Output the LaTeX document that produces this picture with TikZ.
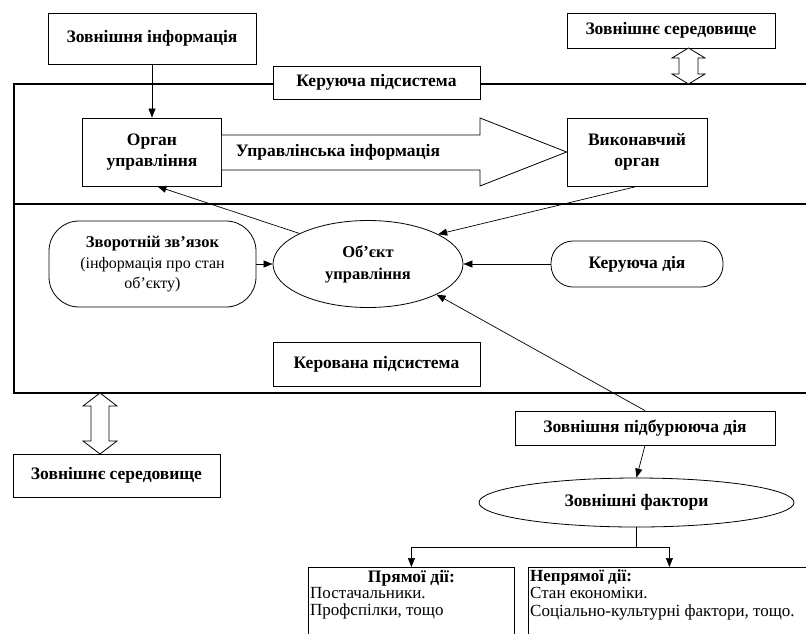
\documentclass[tikz,border=0pt]{standalone}
\usepackage{fontspec}
\setmainfont{Liberation Serif}
\usetikzlibrary{shapes.geometric,arrows.meta,calc}
\begin{document}
\begin{tikzpicture}[x=1pt,y=-1pt,
  bx/.style={draw, line width=0.8pt, fill=white, inner sep=2pt, align=center,
    font=\bfseries\fontsize{17.5}{21}\selectfont},
  lbl/.style={inner sep=1pt, align=center, font=\bfseries\fontsize{17.5}{21}\selectfont},
  txt/.style={inner sep=2pt, align=left, font=\fontsize{17}{17.5}\selectfont},
  arr/.style={-{Triangle[length=9pt,width=7pt]}, line width=0.7pt},
  frm/.style={line width=1.1pt},
  hollow/.style={draw, line width=0.8pt, fill=white}]
\useasboundingbox (0,0) rectangle (806,633);

% frame of the system
\draw[frm] (14,84) rectangle (812,393);
\coordinate (divL) at (14,204);
\coordinate (divR) at (812,204);
\draw[frm] (divL) -- (divR);

% nodes
\node[bx, minimum width=208, minimum height=51] (zi) at (152,38.5) {Зовнішня інформація};
\node[bx, minimum width=208, minimum height=35] (ztop) at (671,30.5) {Зовнішнє середовище};
\node[bx, minimum width=207, minimum height=33] (kp) at (376.5,82.5) {Керуюча підсистема};
\node[bx, minimum width=139, minimum height=68] (org) at (152,152) {Орган\\управління};
\node[bx, minimum width=140, minimum height=68] (exec) at (637,152) {Виконавчий\\орган};
\node[bx, rounded corners=30, minimum width=207, minimum height=86,
  font=\bfseries\fontsize{16.5}{20.5}\selectfont] (zz) at (152.5,264)
  {Зворотній зв'язок\\{\mdseries\fontsize{16}{20.5}\selectfont (інформація про стан}\\{\mdseries\fontsize{16}{20.5}\selectfont об’єкту)}};
\node[bx, ellipse, minimum width=190, minimum height=87,
  font=\bfseries\fontsize{16.5}{22}\selectfont] (obj) at (368,264) {Об’єкт\\управління};
\node[bx, rounded corners=22, minimum width=172, minimum height=46] (kd) at (637,264) {Керуюча дія};
\node[bx, minimum width=207, minimum height=44] (kv) at (376.5,364) {Керована підсистема};
\node[bx, minimum width=207, minimum height=43] (zbot) at (116.5,475.5) {Зовнішнє середовище};
\node[bx, minimum width=260, minimum height=34] (zpd) at (645,428) {Зовнішня підбурююча дія};
\node[bx, ellipse, minimum width=315, minimum height=49] (zf) at (636.5,502.5) {Зовнішні фактори};
\node[draw, line width=0.8pt, minimum width=206, minimum height=80, anchor=north west, inner sep=0] (pd) at (308,567) {};
\node[draw, line width=0.8pt, minimum width=282, minimum height=80, anchor=north west, inner sep=0] (npd) at (528,567) {};

% texts of the two lower boxes
\node[lbl, anchor=north] (pdh) at ($(pd.north)+(0,2)$) {Прямої дії:};
\node[txt, anchor=north west] (pdt) at ($(pd.north west)+(0,18)$) {Постачальники.\\Профспілки, тощо};
\node[txt, anchor=north west] (npdt) at (npd.north west) {\textbf{Непрямої дії:}\\Стан економіки.\\Соціально-культурні фактори, тощо.};

% big hollow arrow
\draw[hollow] ($(org.east)+(0,-17)$) -- (480,135) -- (480,118) -- (exec.west)
  -- (480,186) -- (480,170) -- ($(org.east)+(0,18)$);
\node[lbl] (ui) at (338,152) {Управлінська інформація};

% double arrows to the environment
\draw[hollow] (688.5,48) -- (705,58) -- (698,58) -- (698,74) -- (705,74) -- (688.5,84)
  -- (672,74) -- (679,74) -- (679,58) -- (672,58) -- cycle;
\draw[hollow] (100,393) -- (117,406) -- (109,406) -- (109,441) -- (117,441) -- (100,454)
  -- (83,441) -- (91,441) -- (91,406) -- (83,406) -- cycle;

% connectors
\draw[arr] (zi.south) -- (org.north);
\draw[arr] (obj.156) -- (org.-81);
\draw[arr] (exec.south) -- (obj.23);
\draw[arr] (zz.east) -- (obj.west);
\draw[arr] (kd.west) -- (obj.east);
\draw[arr] (zpd.north) -- (obj.-24);
\draw[arr] (zpd.south) -- (zf.north);
\coordinate (split) at (636.5,547);
\draw[line width=0.7pt] (zf.south) -- (split);
\draw[arr] (split) -| (pd.north);
\draw[arr] (split) -| (npd.north);
\end{tikzpicture}
\end{document}
